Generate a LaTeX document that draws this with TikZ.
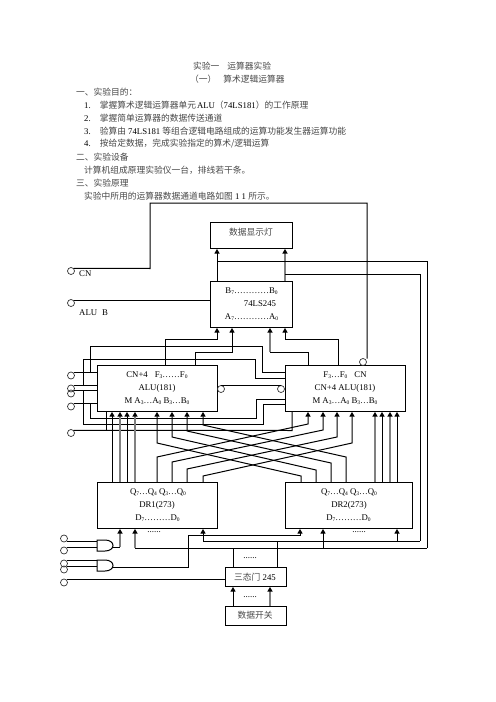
\documentclass[tikz,border=0pt]{standalone}
\usepackage{fontspec}
\setmainfont{Liberation Serif}
\newfontfamily\cjkfam{Noto Sans CJK SC}
\usetikzlibrary{arrows.meta,calc}
\newcommand{\zh}[1]{{\cjkfam\color{black!72}#1}}
\newcommand{\dn}[1]{\raisebox{-0.3ex}{\fontsize{5.5bp}{6bp}\selectfont #1}}
\newcommand{\dts}{{\fontsize{9bp}{9bp}\selectfont ......}}
\tikzset{
  wire/.style={line width=1bp,black},
  arr/.style={wire,-{Triangle[length=4.5bp,width=5bp]}},
  grayarr/.style={line width=1.8bp,black!50,-{Triangle[length=4.5bp,width=5bp,color=black]}},
  box/.style={draw,line width=1bp,inner sep=0pt,anchor=north west,align=center},
  pin/.style={draw,circle,line width=0.7bp,black!80,minimum size=7bp,inner sep=0pt},
  txt/.style={inner sep=0pt,anchor=west,font=\fontsize{8.75bp}{10bp}\selectfont},
  mid/.style={inner sep=0pt,anchor=center,font=\fontsize{8.75bp}{10bp}\selectfont},
  gate/.style={draw,line width=1bp}
}
\begin{document}
\begin{tikzpicture}[x=1bp,y=-1bp]
\useasboundingbox (0,0) rectangle (496,702);
% text block
\node[txt] (t1) at (193,66) {\zh{实验一\hspace{8bp}运算器实验}};
\node[txt] (t2) at (190,79) {\zh{（一）\hspace{7bp}算术逻辑运算器}};
\node[txt] (t3) at (76,92) {\zh{一、实验目的：}};
\node[txt] (t4) at (84,105) {1.\hspace{9bp}\zh{掌握算术逻辑运算器单元}\hspace{1bp}ALU\zh{（}74LS181\zh{）的工作原理}};
\node[txt] (t5) at (84,118) {2.\hspace{9bp}\zh{掌握简单运算器的数据传送通道}};
\node[txt] (t6) at (84,131) {3.\hspace{9bp}\zh{验算由} 74LS181 \zh{等组合逻辑电路组成的运算功能发生器运算功能}};
\node[txt] (t7) at (84,144) {4.\hspace{9bp}\zh{按给定数据，完成实验指定的算术/逻辑运算}};
\node[txt] (t8) at (76,157) {\zh{二、实验设备}};
\node[txt] (t9) at (84,170) {\zh{计算机组成原理实验仪一台，排线若干条。}};
\node[txt] (t10) at (76,183) {\zh{三、实验原理}};
\node[txt] (t11) at (84,196) {\zh{实验中所用的运算器数据通道电路如图} 1 1 \zh{所示。}};
% boxes
\node[box,minimum width=82bp,minimum height=26bp] (lamp) at (210,222) {};
\node[box,minimum width=82bp,minimum height=46bp] (bus) at (210,281) {};
\node[box,minimum width=120bp,minimum height=46bp] (alua) at (97,365) {};
\node[box,minimum width=120bp,minimum height=46bp] (alub) at (285,365) {};
\node[box,minimum width=120bp,minimum height=46bp] (dra) at (97,482) {};
\node[box,minimum width=127bp,minimum height=46bp] (drb) at (285,482) {};
\node[box,minimum width=61bp,minimum height=19bp] (tri) at (225,567) {};
\node[box,minimum width=61bp,minimum height=19bp] (sw) at (225,606) {};
% box labels
\node[mid] (l1) at (251,232) {\zh{数据显示灯}};
\node[mid] (l2) at (251.5,291) {B\dn{7}…………B\dn{0}};
\node[mid] (l3) at (260,304) {74LS245};
\node[mid] (l4) at (251.5,317) {A\dn{7}…………A\dn{0}};
\node[mid] (l5) at (157,375) {CN+4\hspace{7bp}F\dn{3}……F\dn{0}};
\node[mid] (l6) at (157,388) {ALU(181)};
\node[mid] (l7) at (157,401) {M A\dn{3}…A\dn{0} B\dn{3}…B\dn{0}};
\node[mid] (l8) at (345,375) {F\dn{3}…F\dn{0}\hspace{7bp}CN};
\node[mid] (l9) at (345,388) {CN+4 ALU(181)};
\node[mid] (l10) at (345,401) {M A\dn{3}…A\dn{0} B\dn{3}…B\dn{0}};
\node[mid] (l11) at (158,492) {Q\dn{7}…Q\dn{4} Q\dn{3}…Q\dn{0}};
\node[mid] (l12) at (157,505) {DR1(273)};
\node[mid] (l13) at (157.5,518) {D\dn{7}………D\dn{0}};
\node[mid] (l14) at (349,492) {Q\dn{7}…Q\dn{4} Q\dn{3}…Q\dn{0}};
\node[mid] (l15) at (349,505) {DR2(273)};
\node[mid] (l16) at (348.5,518) {D\dn{7}………D\dn{0}};
\node[mid] (l17) at (255,577) {\zh{三态门} 245};
\node[mid] (l18) at (255,615) {\zh{数据开关}};
\node[txt] (l19) at (79,274) {CN};
\node[txt] (l20) at (79,313) {ALU\hspace{5bp}B};
\node[mid] (d1) at (154,532) {\dts};
\node[mid] (d2) at (359,532) {\dts};
\node[mid] (d3) at (250,558) {\dts};
\node[mid] (d4) at (250,597) {\dts};
% pins
\node[pin] (pcn) at (71,271) {};
\node[pin] (pab) at (71,303) {};
\node[pin] (p1) at (71,375.5) {};
\node[pin] (p2) at (71,388.5) {};
\node[pin] (p3) at (71,393.5) {};
\node[pin] (p4) at (71,406.5) {};
\node[pin] (p5) at (71,433) {};
\node[pin] (q1) at (221,389) {};
\node[pin] (q2) at (281,389) {};
\node[pin] (q3) at (363,362) {};
\node[pin] (g1) at (64,538.5) {};
\node[pin] (g2) at (64,550.5) {};
\node[pin] (g3) at (64,563.5) {};
\node[pin] (g4) at (64,569.5) {};
\node[pin] (g5) at (64,582.5) {};
% AND gates
\draw[gate,fill=white] (97,540) -- (105,540) .. controls (110,540) and (113,542.5) .. (113,545.5) .. controls (113,548.5) and (110,551) .. (105,551) -- (97,551) -- cycle;
\draw[gate,fill=white] (97,560) -- (105,560) .. controls (110,560) and (113,562.5) .. (113,565.5) .. controls (113,568.5) and (110,571) .. (105,571) -- (97,571) -- cycle;
\coordinate (gao) at (113,547);
\coordinate (gbo) at (113,567);
% left control wires
\draw[wire] (pcn.north east) -- (150,268.5) -- (150,203) -- (367,203) -- (367,358.5);
\draw[wire] (pab.north east) -- (pab.north east -| bus.west);
\draw[wire] (p1.north east) -- (p1.north east -| alua.west);
\draw[wire] (p2.north east) -- (p2.north east -| alua.west);
\draw[wire] (p3.north east) -- (p3.north east -| alua.west);
\draw[wire] (p4.north east) -- (p4.north east -| alua.west);
\draw[wire] (p5.north east) -- (292,430.5) -- (292,430.5 |- alub.south);
\draw[wire] (106,430.5) -- (106,430.5 |- alua.south);
% control buses shared by the ALUs
\draw[wire] (90,373) -- (90,346) -- (262,346) -- (262,372) -- (262,372 -| alub.west);
\draw[wire] (83,386) -- (83,359) -- (255,359) -- (255,378) -- (255,378 -| alub.west);
\draw[wire] (83,391) -- (83,424) -- (263,424) -- (263,404) -- (263,404 -| alub.west);
\draw[wire] (90,404) -- (90,418) -- (256,418) -- (256,399) -- (256,399 -| alub.west);
\draw[wire] (q1.north) -- (q2.north);
% ALU to 245
\draw[arr] (165,365) -- (165,339) -- (217,339) -- (217,339 |- bus.south);
\draw[arr] (195,365) -- (195,352) -- (232,352) -- (232,352 |- bus.south);
\draw[wire] (308,365) -- (308,352) -- (270,352);
\draw[grayarr] (270,352) -- (270,352 |- bus.south);
\draw[wire] (338,365) -- (338,339) -- (285,339);
\draw[arr] (285,339) -- (285,339 |- bus.south);
% 245 to lamps
\draw[arr] (217,281) -- (217,281 |- lamp.south);
\draw[grayarr] (285,281) -- (285,281 |- lamp.south);
% buses to DR
\draw[wire] (217,261) -- (427,261) -- (427,548);
\draw[wire] (285,274) -- (420,274) -- (420,541);
\draw[wire] (135,548) -- (427,548);
\draw[wire] (203,541) -- (420,541);
\draw[grayarr] (135,548) -- (135,548 |- dra.south);
\draw[arr] (203,541) -- (203,541 |- dra.south);
\draw[arr] (323,548) -- (323,548 |- drb.south);
\draw[arr] (397,541) -- (397,541 |- drb.south);
% DR to ALU straight
\draw[arr] (112,482) -- (112,482 |- alua.south);
\draw[grayarr] (120,482) -- (120,482 |- alua.south);
\draw[arr] (127,482) -- (127,482 |- alua.south);
\draw[grayarr] (135,482) -- (135,482 |- alua.south);
\draw[grayarr] (375,482) -- (375,482 |- alub.south);
\draw[arr] (382,482) -- (382,482 |- alub.south);
\draw[grayarr] (390,482) -- (390,482 |- alub.south);
\draw[arr] (397,482) -- (397,482 |- alub.south);
% crossings DR2 -> ALU1
\draw[arr] (301,482) -- (301,476) -- (157,443) -- (157,443 |- alua.south);
\draw[arr] (316,482) -- (316,470) -- (172,437) -- (172,437 |- alua.south);
\draw[arr] (331,482) -- (331,463) -- (187,431) -- (187,431 |- alua.south);
\draw[arr] (346,482) -- (346,457) -- (203,425) -- (203,425 |- alua.south);
% crossings DR1 -> ALU2
\draw[arr] (157,482) -- (157,457) -- (308,424) -- (308,424 |- alub.south);
\draw[arr] (172,482) -- (172,462) -- (323,430) -- (323,430 |- alub.south);
\draw[arr] (187,482) -- (187,469) -- (337,437) -- (337,437 |- alub.south);
\draw[arr] (203,482) -- (203,476) -- (352,443) -- (352,443 |- alub.south);
% gates wiring
\draw[wire] (g1.south east) -- (g1.south east -| 97,0);
\draw[wire] (g2.north east) -- (g2.north east -| 97,0);
\draw[wire] (g3.north east) -- (g3.north east -| 97,0);
\draw[wire] (g4.north east) -- (g4.north east -| 97,0);
\draw[wire] (g5.north east) -- (g5.north east -| tri.west);
\draw[wire] (gao) -- (120,547);
\draw[grayarr] (120,547) -- (120,547 |- dra.south);
\draw[arr] (gbo) -- (188,567) -- (188,535) -- (300,535) -- (300,535 |- drb.south);
% three state
\draw[wire] (233,567) -- (233,548);
\draw[wire] (277,567) -- (277,541);
\draw[arr] (233,606) -- (233,606 |- tri.south);
\draw[grayarr] (270,606) -- (270,606 |- tri.south);
\end{tikzpicture}
\end{document}
